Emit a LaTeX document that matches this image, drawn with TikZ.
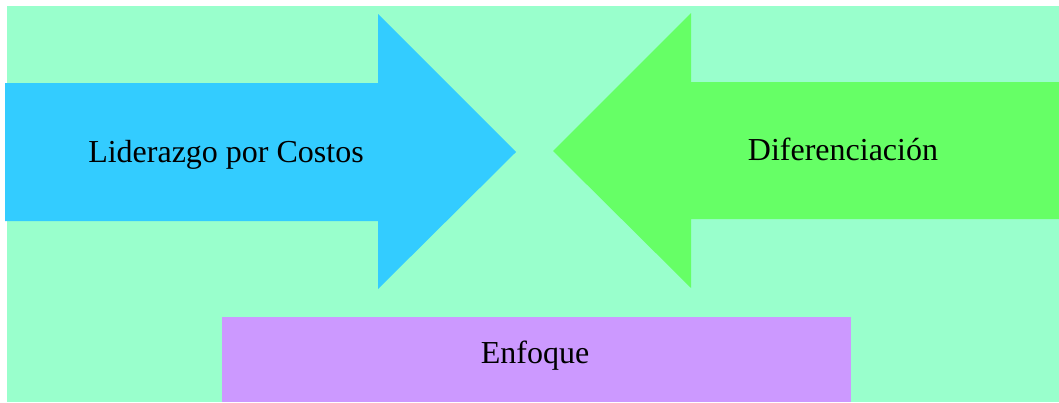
\documentclass[tikz,border=0pt]{standalone}
\usepackage{fontspec}
\setmainfont{Liberation Serif}
\definecolor{fondo}{HTML}{99FFCC}
\definecolor{azul}{HTML}{33CCFF}
\definecolor{verde}{HTML}{66FF66}
\definecolor{lila}{HTML}{CC99FF}
\tikzset{
	etiqueta/.style={anchor=base, inner sep=0pt, font=\fontsize{32}{38}\selectfont},
	flecha/.style={draw=none}
}
\begin{document}
\begin{tikzpicture}[x=1pt, y=-1pt]
	\useasboundingbox (0,0) rectangle (1059,402);
	\fill[fondo] (7,6) rectangle (1059,402);
	\fill[flecha, azul] (5,83) -- (378,83) -- (378,14) -- (516,152) -- (378,289) -- (378,221) -- (5,221) -- cycle;
	\fill[flecha, verde] (1059,82) -- (691,82) -- (691,13) -- (553,151) -- (691,288) -- (691,219) -- (1059,219) -- cycle;
	\fill[lila] (222,317) rectangle (851,402);
	\node[etiqueta] (costos) at (226,162) {Liderazgo por Costos};
	\node[etiqueta] (dif) at (843,160) {Diferenciación};
	\node[etiqueta] (enfoque) at (535,363) {Enfoque};
\end{tikzpicture}
\end{document}
